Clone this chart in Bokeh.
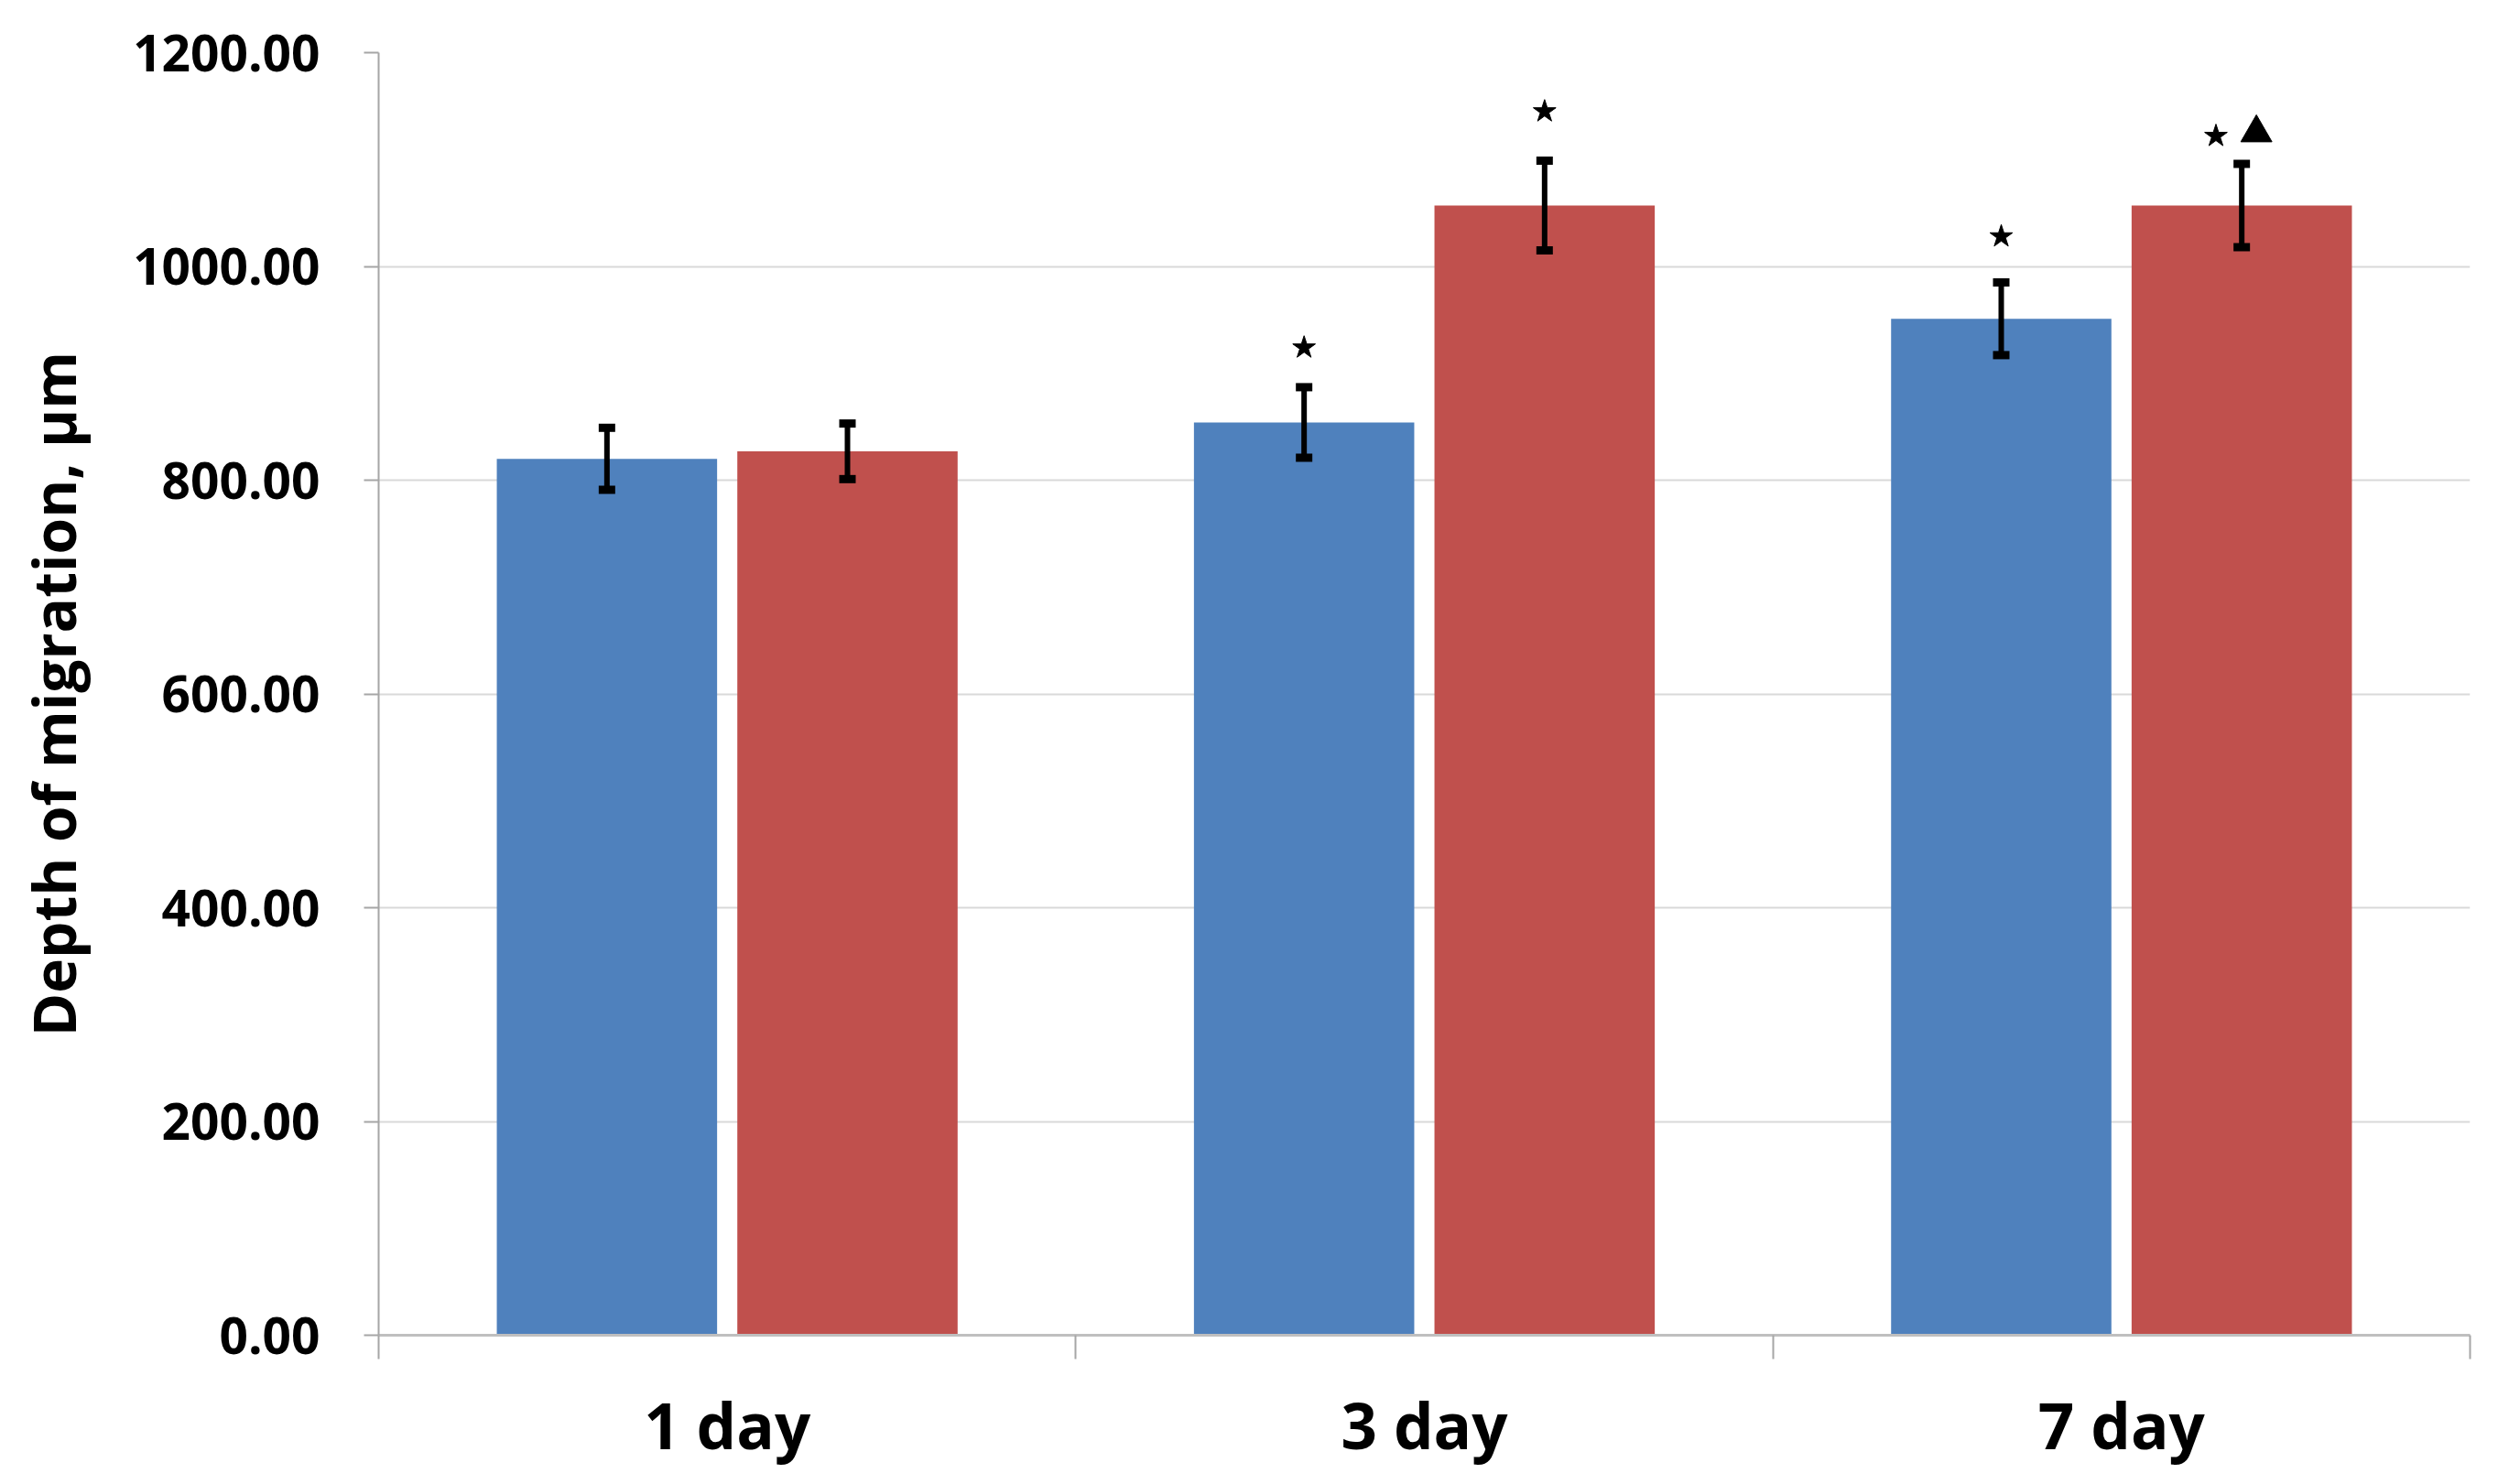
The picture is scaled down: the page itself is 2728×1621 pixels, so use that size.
import numpy as np
from bokeh.plotting import figure
from bokeh.models import (Range1d, FixedTicker, NumeralTickFormatter, Whisker,
                          TeeHead, ColumnDataSource)
from bokeh.embed import file_html
from bokeh.resources import INLINE

# ---- data ----
categories = ["1 day", "3 day", "7 day"]
blue_values = [820, 854, 951]
blue_errors = [29, 33, 34]
red_values = [827, 1057, 1057]
red_errors = [26, 42, 39]
y_ticks = [0, 200, 400, 600, 800, 1000, 1200]
# significance marks: (category index, series, symbol, y value)
mark_cat = [1, 1, 2, 2, 2]
mark_series = ["blue", "red", "blue", "red", "red"]
mark_symbol = ["star", "star", "star", "star", "triangle"]
mark_y = [924, 1145, 1028, 1122, 1125]

BLUE = "#4F81BD"
RED = "#C0504D"
FONT = "Open Sans"

centers = np.arange(len(categories)) + 0.5
bar_w = 0.316
off = 0.1725
xb = centers - off
xr = centers + off

p = figure(width=2712, height=1605, output_backend="svg", toolbar_location=None,
           x_range=Range1d(0, len(categories)), y_range=Range1d(0, 1200),
           min_border_left=413, min_border_right=15, min_border_top=57,
           min_border_bottom=140)
p.outline_line_color = None
p.background_fill_color = "white"

p.vbar(x=xb, top=blue_values, width=bar_w, fill_color=BLUE, line_color=None)
p.vbar(x=xr, top=red_values, width=bar_w, fill_color=RED, line_color=None)

for xs, vals, errs in ((xb, blue_values, blue_errors), (xr, red_values, red_errors)):
    src = ColumnDataSource(dict(x=list(xs),
                                upper=[v + e for v, e in zip(vals, errs)],
                                lower=[v - e for v, e in zip(vals, errs)]))
    w = Whisker(source=src, base="x", upper="upper", lower="lower",
                line_width=6, line_color="black", level="overlay",
                upper_head=TeeHead(size=18, line_width=9, line_color="black"),
                lower_head=TeeHead(size=18, line_width=9, line_color="black"))
    p.add_layout(w)

# significance marks
mx, my, msz, mk = [], [], [], []
for c, s, sym, y in zip(mark_cat, mark_series, mark_symbol, mark_y):
    base = centers[c] + (off if s == "red" else -off)
    if s == "red" and c == 2:
        base += (-0.037 if sym == "star" else 0.021)
    mx.append(base)
    my.append(y)
    mk.append(sym)
    msz.append(26 if sym == "star" else 34)
p.scatter(x=mx, y=my, marker=mk, size=msz, fill_color="black", line_color="black")

# grid
p.xgrid.visible = False
p.ygrid.ticker = FixedTicker(ticks=y_ticks)
p.ygrid.grid_line_color = "#d9d9d9"
p.ygrid.grid_line_width = 2

# y axis
ya = p.yaxis[0]
ya.ticker = FixedTicker(ticks=y_ticks)
ya.formatter = NumeralTickFormatter(format="0.00")
ya.axis_label = "Depth of migration, μm"
ya.axis_label_text_font = FONT
ya.axis_label_text_font_size = "64px"
ya.axis_label_text_font_style = "bold"
ya.axis_label_text_color = "black"
ya.axis_label_standoff = 40
ya.major_label_text_font = FONT
ya.major_label_text_font_size = "55px"
ya.major_label_text_font_style = "bold"
ya.major_label_text_color = "black"
ya.major_label_standoff = 48
ya.axis_line_color = "#a6a6a6"
ya.axis_line_width = 2
ya.major_tick_line_color = "#a6a6a6"
ya.major_tick_line_width = 2
ya.major_tick_out = 16
ya.major_tick_in = 0
ya.minor_tick_line_color = None

# x axis
xa = p.xaxis[0]
xa.ticker = FixedTicker(ticks=list(centers), minor_ticks=list(range(len(categories) + 1)))
xa.major_label_overrides = {float(c): lab for c, lab in zip(centers, categories)}
xa.major_label_text_font = FONT
xa.major_label_text_font_size = "69px"
xa.major_label_text_font_style = "bold"
xa.major_label_text_color = "black"
xa.major_label_standoff = 24
xa.major_tick_line_color = None
xa.major_tick_out = 0
xa.major_tick_in = 0
xa.minor_tick_line_color = "#a6a6a6"
xa.minor_tick_line_width = 2
xa.minor_tick_out = 26
xa.minor_tick_in = 0
xa.axis_line_color = "#bfbfbf"
xa.axis_line_width = 3

open("out.html", "w").write(file_html(p, INLINE))
